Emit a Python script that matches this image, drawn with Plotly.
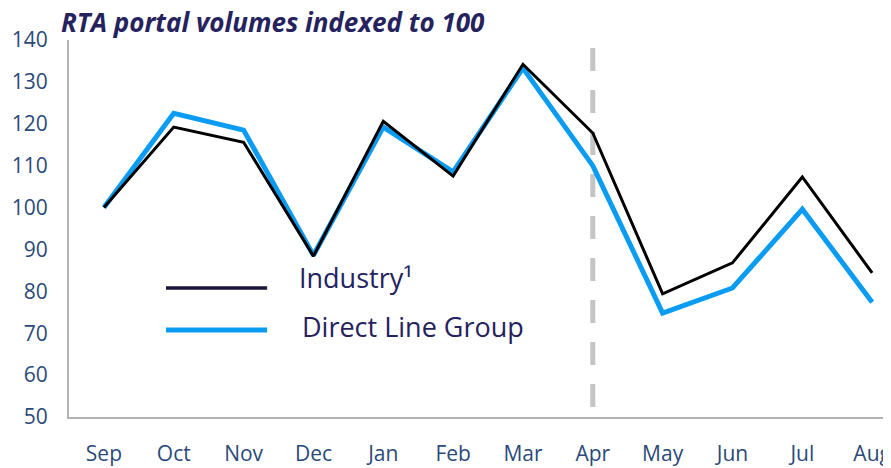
import plotly.graph_objects as go

months = ["Sep", "Oct", "Nov", "Dec", "Jan", "Feb", "Mar", "Apr", "May", "Jun", "Jul", "Aug"]
industry = [100, 119.2, 115.6, 88.4, 120.6, 107.5, 134.2, 117.8, 79.4, 86.8, 107.3, 84.4]
dlg = [100, 122.5, 118.5, 88.6, 119.2, 108.5, 133.3, 110.0, 74.8, 80.8, 99.6, 77.4]
y_ticks = [50, 60, 70, 80, 90, 100, 110, 120, 130, 140]
divider_month = "Apr"

tick_color = "#2b4a78"
text_color = "#25225e"
font_family = "'Open Sans', Lato, sans-serif"

fig = go.Figure()
fig.add_trace(go.Scatter(x=months, y=dlg, mode="lines", name="Direct Line Group",
                         line=dict(color="#0a9cf2", width=5), showlegend=False))
fig.add_trace(go.Scatter(x=months, y=industry, mode="lines", name="Industry¹",
                         line=dict(color="#000000", width=3), showlegend=False))

# vertical dashed divider
fig.add_shape(type="line", xref="x", yref="y", x0=divider_month, x1=divider_month,
              y0=52.4, y1=138.1, line=dict(color="#c4c4c4", width=5, dash="23px,19px"), layer="below")

# custom legend
fig.add_shape(type="line", xref="paper", yref="paper", x0=0.118, x1=0.241, y0=0.342, y1=0.342,
              line=dict(color="#1a1638", width=3.5))
fig.add_shape(type="line", xref="paper", yref="paper", x0=0.118, x1=0.241, y0=0.231, y1=0.231,
              line=dict(color="#0a9cf2", width=5))
fig.add_annotation(xref="paper", yref="paper", x=0.277, y=0.371, xanchor="left", yanchor="middle",
                   text="Industry¹", showarrow=False, font=dict(size=27, color=text_color, family=font_family))
fig.add_annotation(xref="paper", yref="paper", x=0.281, y=0.239, xanchor="left", yanchor="middle",
                   text="Direct Line Group", showarrow=False, font=dict(size=27, color=text_color, family=font_family))

# title
fig.add_annotation(xref="paper", yref="paper", x=-0.0125, y=1.047, xanchor="left", yanchor="middle",
                   text="<b><i>RTA portal volumes indexed to 100</i></b>", showarrow=False,
                   font=dict(size=26, color=text_color, family=font_family))

# the page body has an 8px margin; margins compensate so the plot area lands where the reference has it
fig.update_layout(
    width=891, height=468,
    margin=dict(l=61, r=8, t=32, b=59, autoexpand=False),
    paper_bgcolor="white", plot_bgcolor="white",
    font=dict(family=font_family, color=tick_color),
)
fig.update_xaxes(type="category", range=[-0.5, 11.27], showgrid=False, zeroline=False,
                 showline=True, linecolor="#b3b3b3", linewidth=2, automargin=False,
                 tickfont=dict(size=21, color=tick_color), ticks="", ticklabelstandoff=17)
fig.update_yaxes(range=[50, 140], tickvals=y_ticks, showgrid=False, zeroline=False,
                 showline=True, linecolor="#b3b3b3", linewidth=2, automargin=False,
                 tickfont=dict(size=21, color=tick_color), ticks="", ticklabelstandoff=15)

fig.write_html("out.html")
